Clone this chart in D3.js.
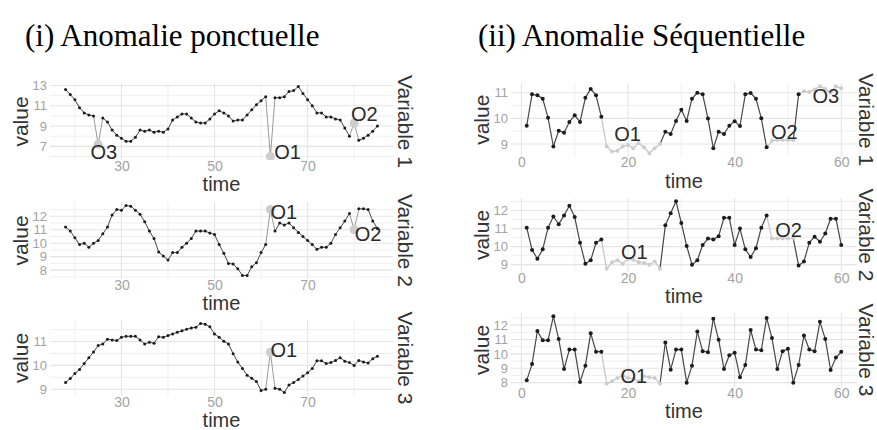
<!DOCTYPE html>
<html>
<head>
<meta charset="utf-8">
<script src="https://cdn.jsdelivr.net/npm/d3@7"></script>
<style>
  html, body { margin: 0; padding: 0; background: #fff; }
  svg { display: block; }
</style>
</head>
<body>
<svg id="chart" width="877" height="430"></svg>
<script>
// ---------------- DATA ----------------
const titles = ["(i) Anomalie ponctuelle", "(ii) Anomalie Séquentielle"];
const stripLabels = ["Variable 1", "Variable 2", "Variable 3"];
const xTitle = "time";
const yTitle = "value";

// Left column: point anomalies, time 18..85
const timeLeft = d3.range(18, 86);
const leftVar1 = [12.6,12.1,11.6,10.8,10.3,10.1,10.0,7.2,9.8,9.4,
  8.6,8.1,7.8,7.5,7.5,7.9,8.6,8.5,8.6,8.4,
  8.5,8.4,8.7,9.6,9.9,10.2,10.2,9.8,9.4,9.3,
  9.3,9.7,10.2,10.5,10.3,10.0,9.5,9.6,9.6,10.1,
  10.6,11.1,11.5,11.9,6.0,11.8,11.8,11.9,12.4,12.5,
  12.9,12.2,11.6,11.0,10.3,10.3,9.9,9.9,9.7,9.6,
  8.8,8.0,9.3,7.6,7.8,8.1,8.5,9.0];
const leftVar2 = [11.2,10.9,10.4,9.9,10.0,9.7,10.0,10.2,10.7,11.2,
  12.1,12.5,12.45,12.8,12.75,12.45,12.15,11.6,10.9,10.35,
  9.35,9.05,8.75,9.3,9.3,9.7,10.0,10.35,10.9,10.9,
  10.9,10.75,10.65,9.9,9.25,8.5,8.45,8.1,7.6,7.6,
  8.25,8.55,9.3,9.9,12.5,10.9,11.5,11.35,11.5,11.15,
  10.8,10.5,10.2,9.9,9.55,9.7,9.7,10.0,10.65,11.15,
  11.65,12.2,11.0,12.55,12.55,12.5,11.65,11.1];
const leftVar3 = [9.28,9.45,9.66,9.83,10.08,10.32,10.56,10.83,10.9,11.1,
  11.07,11.04,11.18,11.22,11.22,11.22,11.07,10.9,10.97,10.93,
  11.2,11.18,11.25,11.32,11.39,11.45,11.52,11.57,11.6,11.76,
  11.73,11.62,11.32,11.18,11.01,10.9,10.49,10.14,9.87,9.59,
  9.46,9.32,8.95,9.0,10.55,9.04,9.0,8.86,9.18,9.28,
  9.41,9.55,9.69,9.87,10.19,10.19,10.08,10.12,10.21,10.32,
  10.17,10.12,10.0,10.21,10.14,10.1,10.28,10.38];
const leftAnom1 = [25, 62, 80];
const leftAnom2 = [62, 80];
const leftAnom3 = [62];
const leftLabels1 = [{text: "O3", t: 26.2, v: 6.5}, {text: "O1", t: 65.7, v: 6.5}, {text: "O2", t: 82.2, v: 10.2}];
const leftLabels2 = [{text: "O1", t: 64.9, v: 12.32}, {text: "O2", t: 83.0, v: 10.72}];
const leftLabels3 = [{text: "O1", t: 64.9, v: 10.64}];
const leftXTicks = [30, 50, 70];
const leftYTicks = [[7, 9, 11, 13], [8, 9, 10, 11, 12], [9, 10, 11]];

// Right column: sequential anomalies, time 1..60
const timeRight = d3.range(1, 61);
const rightVar1 = [9.71,10.94,10.9,10.77,10.02,8.9,9.52,9.44,9.86,10.12,
  9.86,10.8,11.15,10.9,10.06,8.9,8.7,8.73,8.9,8.96,
  8.83,9.03,8.87,8.64,8.83,9.0,9.48,9.39,9.9,10.34,
  9.9,10.77,11.0,10.94,9.99,8.83,9.48,9.39,9.71,9.89,
  9.7,10.94,10.99,10.77,10.0,8.87,9.12,9.15,9.15,9.15,
  9.15,10.94,11.06,11.03,11.13,11.25,11.15,11.0,11.25,11.18];
const rightVar2 = [11.05,9.82,9.33,9.85,11.05,11.67,11.24,11.73,12.27,11.64,
  10.22,9.05,9.24,10.22,10.4,8.78,9.13,9.24,9.05,9.31,
  9.27,9.13,9.09,9.0,9.18,8.78,11.18,11.85,12.51,11.31,
  10.04,9.0,9.24,10.09,10.45,10.4,10.58,11.6,11.6,10.09,
  11.0,9.85,9.42,9.91,11.05,11.73,10.45,10.45,10.45,10.45,
  10.45,8.95,9.18,10.22,10.55,10.27,10.73,11.55,11.55,10.09];
const rightVar3 = [8.16,9.29,11.59,10.94,10.94,12.61,11.03,8.95,10.3,10.3,
  8.05,9.18,11.44,10.15,10.15,7.93,8.09,8.32,8.5,8.32,
  8.27,8.09,8.45,8.38,8.32,7.93,10.8,8.9,10.3,10.3,
  8.0,9.18,11.55,10.19,10.12,12.45,10.98,8.95,9.9,10.08,
  8.38,9.22,11.66,10.3,10.26,12.5,11.1,8.95,10.19,10.35,
  8.0,9.22,11.28,10.3,10.19,12.23,11.03,8.88,9.74,10.15];
const rightAnom1 = [16,17,18,19,20,21,22,23,24,25,26, 47,48,49,50,51, 53,54,55,56,57,58,59,60];
const rightAnom2 = [16,17,18,19,20,21,22,23,24,25,26, 47,48,49,50,51];
const rightAnom3 = [16,17,18,19,20,21,22,23,24,25,26];
const rightLabels1 = [{text: "O1", t: 19.9, v: 9.41}, {text: "O2", t: 49.3, v: 9.47}, {text: "O3", t: 57.1, v: 10.9}];
const rightLabels2 = [{text: "O1", t: 21.2, v: 9.73}, {text: "O2", t: 50.1, v: 10.95}];
const rightLabels3 = [{text: "O1", t: 21.1, v: 8.5}];
const rightXTicks = [0, 20, 40, 60];
const rightYTicks = [[9, 10, 11], [9, 10, 11, 12], [8, 9, 10, 11, 12]];

// ---------------- LAYOUT / STYLE ----------------
const FONT = "'Liberation Sans', Arial, sans-serif";
const TITLE_FONT = "'Liberation Serif', 'DejaVu Serif', serif";
const columns = [
  { mode: "point", x0: 50, x1: 393, rows: [[83, 160], [202, 279], [320, 396]], valueX: 21, stripX: 405,
    titleX: 25, time: timeLeft, series: [leftVar1, leftVar2, leftVar3], anoms: [leftAnom1, leftAnom2, leftAnom3],
    labels: [leftLabels1, leftLabels2, leftLabels3], xTicks: leftXTicks, yTicks: leftYTicks,
    ptR: 1.5, lineW: 1.0, anomR: 4.5 },
  { mode: "seq", x0: 511, x1: 857, rows: [[83, 156.5], [198, 272], [313, 387]], valueX: 482, stripX: 866,
    titleX: 478, time: timeRight, series: [rightVar1, rightVar2, rightVar3], anoms: [rightAnom1, rightAnom2, rightAnom3],
    labels: [rightLabels1, rightLabels2, rightLabels3], xTicks: rightXTicks, yTicks: rightYTicks,
    ptR: 2.0, lineW: 1.2, anomR: 2.0 }
];

const svg = d3.select("#chart");
let clipId = 0;

function expand(ext) {
  const pad = (ext[1] - ext[0]) * 0.05;
  return [ext[0] - pad, ext[1] + pad];
}
function minorTicks(major, domain) {
  const step = major[1] - major[0];
  const out = [];
  for (let v = major[0] - step / 2; v <= domain[1]; v += step) {
    if (v >= domain[0]) out.push(v);
  }
  return out;
}

columns.forEach((col, ci) => {
  svg.append("text")
    .attr("x", col.titleX).attr("y", 46)
    .attr("font-family", TITLE_FONT)
    .attr("font-size", 31).attr("fill", "#000")
    .text(titles[ci]);

  col.rows.forEach((row, ri) => {
    const values = col.series[ri];
    const data = col.time.map((t, i) => ({ t, v: values[i], a: col.anoms[ri].includes(t) }));
    const x = d3.scaleLinear().domain(expand(d3.extent(col.time))).range([col.x0, col.x1]);
    const y = d3.scaleLinear().domain(expand(d3.extent(values))).range([row[1], row[0]]);
    const g = svg.append("g");

    const id = "clip" + (clipId++);
    svg.append("clipPath").attr("id", id).append("rect")
      .attr("x", col.x0).attr("y", row[0]).attr("width", col.x1 - col.x0).attr("height", row[1] - row[0]);

    // grid
    const grid = g.append("g");
    minorTicks(col.yTicks[ri], y.domain()).forEach(v => {
      grid.append("line").attr("x1", col.x0).attr("x2", col.x1).attr("y1", y(v)).attr("y2", y(v))
        .attr("stroke", "#efefef").attr("stroke-width", 1);
    });
    minorTicks(col.xTicks, x.domain()).forEach(v => {
      grid.append("line").attr("y1", row[0]).attr("y2", row[1]).attr("x1", x(v)).attr("x2", x(v))
        .attr("stroke", "#efefef").attr("stroke-width", 1);
    });
    col.yTicks[ri].forEach(v => {
      grid.append("line").attr("x1", col.x0).attr("x2", col.x1).attr("y1", y(v)).attr("y2", y(v))
        .attr("stroke", "#e4e4e4").attr("stroke-width", 1.1);
    });
    col.xTicks.forEach(v => {
      grid.append("line").attr("y1", row[0]).attr("y2", row[1]).attr("x1", x(v)).attr("x2", x(v))
        .attr("stroke", "#e4e4e4").attr("stroke-width", 1.1);
    });

    // axes
    const fmt = d3.format("d");
    const xa = g.append("g").attr("transform", `translate(0,${row[1]})`)
      .call(d3.axisBottom(x).tickValues(col.xTicks).tickFormat(fmt).tickSize(0).tickPadding(1));
    const ya = g.append("g").attr("transform", `translate(${col.x0},0)`)
      .call(d3.axisLeft(y).tickValues(col.yTicks[ri]).tickFormat(fmt).tickSize(0).tickPadding(3));
    xa.select(".domain").remove();
    ya.select(".domain").remove();
    xa.selectAll("text").attr("font-family", FONT).attr("font-size", 14).attr("fill", "#a3a3a3");
    ya.selectAll("text").attr("font-family", FONT).attr("font-size", 13).attr("fill", "#a3a3a3");

    // axis titles
    g.append("text").attr("x", (col.x0 + col.x1) / 2).attr("y", row[1] + 31)
      .attr("text-anchor", "middle").attr("font-family", FONT).attr("font-size", 20).attr("fill", "#333")
      .text(xTitle);
    g.append("text").attr("transform", `translate(${col.valueX},${(row[0] + row[1]) / 2}) rotate(-90)`)
      .attr("dy", "0.35em").attr("text-anchor", "middle").attr("font-family", FONT).attr("font-size", 21).attr("fill", "#333")
      .text(yTitle);
    g.append("text").attr("transform", `translate(${col.stripX},${(row[0] + row[1]) / 2}) rotate(90)`)
      .attr("dy", "0.35em").attr("text-anchor", "middle").attr("font-family", FONT).attr("font-size", 21).attr("fill", "#333")
      .text(stripLabels[ri]);

    // lines
    const plot = g.append("g").attr("clip-path", `url(#${id})`);
    const segs = d3.pairs(data).map(([p, q]) => ({ p, q, gray: col.mode === "point" ? (p.a || q.a) : q.a }));
    const lineColorGray = col.mode === "point" ? "#9a9a9a" : "#c4c4c4";
    plot.selectAll("line.dark").data(segs.filter(s => !s.gray)).join("line")
      .attr("x1", s => x(s.p.t)).attr("y1", s => y(s.p.v)).attr("x2", s => x(s.q.t)).attr("y2", s => y(s.q.v))
      .attr("stroke", "#474747").attr("stroke-width", col.lineW).attr("stroke-linecap", "round");
    plot.selectAll("line.gray").data(segs.filter(s => s.gray)).join("line")
      .attr("x1", s => x(s.p.t)).attr("y1", s => y(s.p.v)).attr("x2", s => x(s.q.t)).attr("y2", s => y(s.q.v))
      .attr("stroke", lineColorGray).attr("stroke-width", col.lineW).attr("stroke-linecap", "round");

    // points
    plot.selectAll("circle.n").data(data.filter(d => !d.a)).join("circle")
      .attr("cx", d => x(d.t)).attr("cy", d => y(d.v)).attr("r", col.ptR).attr("fill", "#1c1c1c");
    plot.selectAll("circle.a").data(data.filter(d => d.a)).join("circle")
      .attr("cx", d => x(d.t)).attr("cy", d => y(d.v)).attr("r", col.anomR).attr("fill", "#cdcdcd");

    // anomaly labels
    g.selectAll("text.lab").data(col.labels[ri]).join("text")
      .attr("x", d => x(d.t)).attr("y", d => y(d.v)).attr("dy", "0.36em")
      .attr("text-anchor", "middle").attr("font-family", FONT).attr("font-size", 20).attr("fill", "#2a2a2a")
      .text(d => d.text);
  });
});
</script>
</body>
</html>
